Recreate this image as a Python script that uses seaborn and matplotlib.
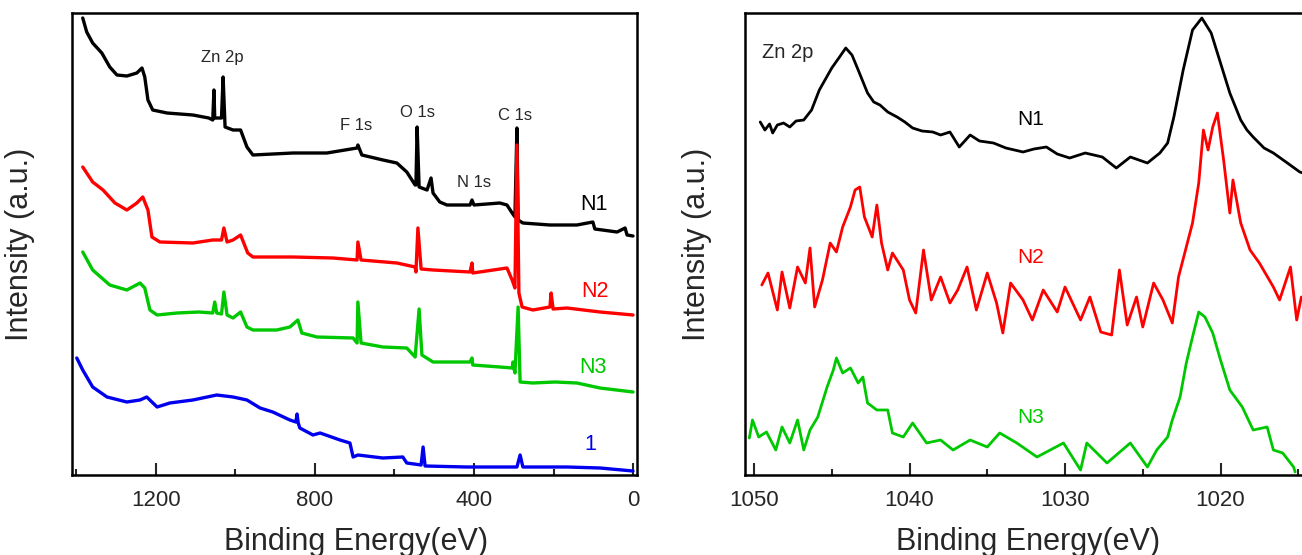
import matplotlib
matplotlib.use("Agg")
import matplotlib.pyplot as plt
import seaborn as sns
from matplotlib.ticker import MultipleLocator

# survey spectra (binding energy in eV, intensity in a.u.)
n1_be = [1384, 1374, 1359, 1336, 1316, 1298, 1273, 1248, 1235, 1228, 1220, 1208, 1172, 1107,
         1067, 1057, 1054, 1052, 1035, 1031, 1026, 1006, 987, 971, 956, 855, 770, 694, 692, 682,
         629, 594, 569, 548, 546, 543, 538, 518, 508, 503, 486, 468, 410, 405, 400, 335, 317, 304,
         297, 292, 289, 277, 209, 141, 101, 96, 40, 20, 15, 0]
n1_int = [482, 468, 457, 447, 433, 425, 424, 427, 432, 423, 400, 390, 387, 385,
          382, 380, 410, 382, 382, 423, 373, 370, 370, 353, 345, 347, 347, 352, 355, 345,
          340, 337, 328, 315, 315, 373, 313, 310, 322, 307, 298, 295, 295, 300, 295, 297, 295, 287,
          283, 372, 280, 277, 275, 275, 278, 271, 268, 272, 265, 264]

n2_be = [1384, 1359, 1333, 1303, 1273, 1248, 1233, 1220, 1210, 1190, 1107, 1057, 1035, 1029, 1021,
         1006, 987, 969, 956, 855, 755, 694, 692, 684, 594, 548, 546, 541, 533, 503, 410, 405, 403,
         317, 304, 297, 292, 287, 279, 252, 209, 206, 201, 166, 83, 0]
n2_int = [333, 318, 310, 297, 290, 297, 303, 290, 263, 258, 257, 260, 260, 272, 258,
          260, 265, 247, 243, 243, 242, 240, 258, 240, 237, 233, 228, 272, 231, 230, 228, 237, 227,
          232, 220, 212, 355, 207, 193, 190, 193, 207, 191, 192, 188, 185]

n3_be = [1384, 1359, 1316, 1273, 1240, 1228, 1215, 1197, 1147, 1092, 1057, 1052, 1047, 1035, 1029,
         1021, 1006, 987, 971, 956, 896, 863, 843, 833, 795, 704, 694, 692, 684, 629, 569, 548, 538,
         531, 503, 410, 405, 403, 335, 304, 302, 297, 289, 284, 252, 196, 141, 83, 0]
n3_int = [248, 230, 215, 210, 217, 212, 190, 185, 187, 188, 187, 198, 187, 186, 208,
          185, 182, 188, 173, 170, 170, 173, 180, 167, 163, 162, 157, 198, 157, 153, 152, 143, 191,
          145, 138, 138, 142, 135, 133, 132, 138, 127, 193, 118, 117, 118, 117, 112, 108]

s1_be = [1399, 1384, 1359, 1323, 1273, 1240, 1223, 1197, 1165, 1107, 1047, 1006, 971, 938, 906,
         863, 848, 845, 842, 838, 805, 787, 737, 712, 704, 692, 629, 579, 569, 533, 528, 523, 418,
         292, 284, 277, 166, 83, 0]
s1_int = [142, 130, 113, 103, 98, 100, 103, 93, 97, 100, 105, 103, 100, 92, 88,
          80, 78, 86, 77, 72, 65, 67, 60, 57, 43, 45, 42, 43, 37, 35, 53, 34, 33,
          33, 45, 33, 33, 32, 29]

# Zn 2p high resolution spectra
zn_n1_be = [1049.6, 1049.3, 1049.0, 1048.8, 1048.5, 1048.1, 1047.7, 1047.3, 1046.8, 1046.3, 1045.8,
            1045.0, 1044.5, 1044.1, 1043.7, 1043.3, 1042.7, 1042.3, 1041.9, 1041.4, 1040.8, 1040.3,
            1039.8, 1039.2, 1038.5, 1038.0, 1037.4, 1036.8, 1036.1, 1035.5, 1034.6, 1033.8, 1032.7,
            1032.0, 1031.2, 1030.5, 1029.7, 1028.7, 1027.6, 1026.7, 1025.8, 1024.7, 1023.9, 1023.4,
            1023.0, 1022.4, 1021.8, 1021.2, 1020.6, 1020.0, 1019.4, 1018.7, 1018.3, 1017.9, 1017.2,
            1016.6, 1015.7, 1014.9, 1014.5]
zn_n1_int = [378, 370, 376, 367, 375, 377, 373, 379, 380, 390, 410,
             432, 443, 452, 445, 430, 407, 398, 395, 388, 383, 378,
             372, 369, 368, 365, 368, 353, 365, 359, 357, 352, 348,
             351, 353, 346, 342, 347, 343, 332, 343, 337, 347, 357,
             383, 430, 470, 482, 467, 437, 407, 380, 370, 363, 352,
             347, 337, 328, 326]

zn_n2_be = [1049.5, 1049.1, 1048.5, 1048.2, 1047.7, 1047.2, 1046.7, 1046.4, 1046.1, 1045.6, 1045.1,
            1044.7, 1044.3, 1043.8, 1043.5, 1043.2, 1042.9, 1042.4, 1042.1, 1041.8, 1041.4, 1041.1,
            1040.4, 1040.0, 1039.6, 1039.1, 1038.6, 1038.0, 1037.4, 1036.9, 1036.3, 1035.7, 1035.0,
            1034.4, 1034.0, 1033.5, 1032.7, 1032.1, 1031.4, 1030.5, 1030.0, 1029.0, 1028.4, 1027.7,
            1027.0, 1026.5, 1026.0, 1025.4, 1025.0, 1024.3, 1023.7, 1023.1, 1022.7, 1022.3, 1021.8,
            1021.4, 1021.1, 1020.8, 1020.5, 1020.2, 1019.8, 1019.4, 1019.2, 1018.7, 1018.1, 1017.5,
            1016.6, 1016.2, 1015.5, 1015.1, 1014.8]
zn_n2_int = [215, 227, 190, 228, 192, 233, 217, 252, 193, 220, 257,
             248, 273, 293, 310, 313, 283, 263, 295, 257, 230, 247,
             230, 200, 187, 250, 200, 223, 197, 210, 233, 190, 227,
             197, 167, 217, 200, 180, 210, 188, 213, 180, 203, 168,
             165, 230, 175, 203, 173, 217, 200, 177, 223, 247, 277,
             317, 370, 350, 373, 387, 340, 287, 320, 277, 250, 237,
             213, 200, 233, 180, 203]

zn_n3_be = [1050.3, 1050.1, 1049.7, 1049.2, 1048.6, 1048.2, 1047.7, 1047.2, 1046.8, 1046.4, 1045.9,
            1045.3, 1044.9, 1044.7, 1044.3, 1043.8, 1043.3, 1043.0, 1042.7, 1042.1, 1041.4, 1041.1,
            1040.4, 1039.8, 1038.9, 1038.0, 1037.2, 1036.1, 1035.0, 1034.2, 1033.1, 1031.8, 1030.1,
            1029.0, 1028.6, 1027.3, 1025.8, 1024.7, 1024.1, 1023.4, 1023.1, 1022.6, 1022.2, 1021.8,
            1021.4, 1021.0, 1020.5, 1020.0, 1019.4, 1018.6, 1017.9, 1017.0, 1016.6, 1016.0, 1015.3,
            1015.2]
zn_n3_int = [62, 80, 63, 68, 50, 73, 57, 80, 50, 70, 83,
             113, 130, 142, 127, 132, 117, 123, 97, 90, 90, 67,
             63, 77, 57, 60, 50, 60, 53, 67, 57, 43, 57,
             30, 57, 37, 57, 33, 50, 63, 80, 103, 137, 163,
             188, 183, 167, 140, 110, 93, 70, 73, 50, 47, 33,
             28]

survey_names = ["N1", "N2", "N3", "1"]
colors = {"N1": "#000000", "N2": "#ff0000", "N3": "#00c800", "1": "#0000ee"}
peak_labels = ["Zn 2p", "F 1s", "O 1s", "N 1s", "C 1s"]
peak_be = [1034, 697, 541, 400, 297]
peak_int = [438, 370, 383, 313, 380]
zn_major = [1050, 1040, 1030, 1020]
zn_minor = [1045, 1035, 1025, 1015]

sns.set_style("ticks")
plt.rcParams["font.family"] = ["Liberation Sans", "DejaVu Sans"]

fig = plt.figure(figsize=(13.02, 5.55), dpi=100)
ax1 = fig.add_axes([72 / 1302, 80 / 555, 565 / 1302, 462 / 555])
ax2 = fig.add_axes([745 / 1302, 80 / 555, 631 / 1302, 462 / 555])

# left panel: survey
surveys = [(n1_be, n1_int), (n2_be, n2_int), (n3_be, n3_int), (s1_be, s1_int)]
for name, (xs, ys) in zip(survey_names, surveys):
    sns.lineplot(x=xs, y=ys, ax=ax1, color=colors[name], linewidth=2.4,
                 sort=False, estimator=None)

for lab, xv, yv in zip(peak_labels, peak_be, peak_int):
    ax1.text(xv, yv, lab, ha="center", va="baseline", fontsize=12)

for name, xv, yv in zip(survey_names, [98, 96, 101, 108], [290, 203, 127, 50]):
    ax1.text(xv, yv, name, ha="center", va="baseline", fontsize=15.5, color=colors[name])

ax1.set_xlim(1411, -10)
ax1.xaxis.set_major_locator(MultipleLocator(400))
ax1.xaxis.set_minor_locator(MultipleLocator(200))

# right panel: Zn 2p
zn = [(zn_n1_be, zn_n1_int), (zn_n2_be, zn_n2_int), (zn_n3_be, zn_n3_int)]
for name, (xs, ys) in zip(survey_names[:3], zn):
    sns.lineplot(x=xs, y=ys, ax=ax2, color=colors[name], linewidth=2.0,
                 sort=False, estimator=None)

ax2.text(1049.5, 442, "Zn 2p", ha="left", va="baseline", fontsize=14.5)
for name, yv in zip(survey_names[:3], [375, 237, 77]):
    ax2.text(1032.2, yv, name, ha="center", va="baseline", fontsize=15, color=colors[name])

ax2.set_xlim(1050.58, 1010)
ax2.set_xticks(zn_major)
ax2.set_xticks(zn_minor, minor=True)

for ax, ylx in [(ax1, -0.0655), (ax2, -0.052)]:
    ax.set_ylim(25, 487)
    ax.set_yticks([])
    ax.tick_params(axis="x", which="major", direction="in", length=8.5, width=1.5,
                   labelsize=16, pad=11)
    ax.tick_params(axis="x", which="minor", direction="in", length=4.5, width=1.5)
    for sp in ax.spines.values():
        sp.set_linewidth(1.8)
        sp.set_color("black")
    ax.set_xlabel("Binding Energy(eV)", fontsize=22)
    ax.set_ylabel("Intensity (a.u.)", fontsize=22)
    ax.yaxis.set_label_coords(ylx, 0.5)

ax1.xaxis.set_label_coords(0.503, -0.112)
ax2.xaxis.set_label_coords(0.4485, -0.112)

fig.savefig("out.png", dpi=100)
